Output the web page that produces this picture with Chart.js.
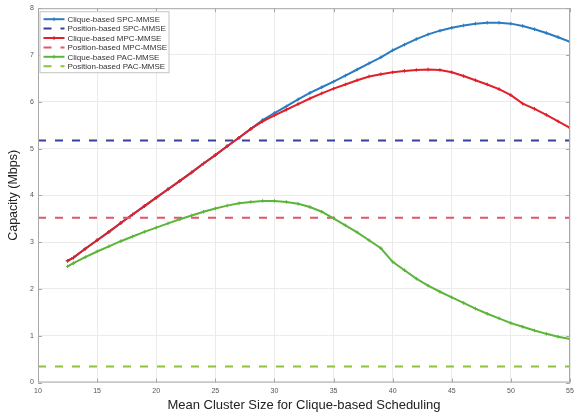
<!DOCTYPE html>
<html>
<head>
<meta charset="utf-8">
<script src="https://cdn.jsdelivr.net/npm/chart.js@4.4.1/dist/chart.umd.min.js"></script>
<style>
  html, body { margin: 0; padding: 0; background: #fff; }
  #wrap { width: 585px; height: 417px; position: relative; }
</style>
</head>
<body>
<div id="wrap"><canvas id="capacity-chart"></canvas></div>
<script>
// mean cluster size (x) and capacity in Mbps
const clusterSize = [12.5, 13, 14, 15, 16, 17, 18, 19, 20, 21, 22, 23, 24, 25, 26, 27, 28, 29, 30,
  31, 32, 33, 34, 35, 36, 37, 38, 39, 40, 41, 42, 43, 44, 45, 46, 47, 48, 49, 50, 51, 52, 53, 54, 55];

const spcClique = [2.60, 2.67, 2.86, 3.04, 3.22, 3.41, 3.59, 3.77, 3.95, 4.13, 4.31, 4.49, 4.68, 4.86,
  5.05, 5.23, 5.42, 5.61, 5.76, 5.90, 6.05, 6.19, 6.31, 6.43, 6.56, 6.69, 6.82, 6.95, 7.10, 7.22,
  7.34, 7.44, 7.52, 7.58, 7.63, 7.67, 7.69, 7.69, 7.67, 7.62, 7.55, 7.47, 7.38, 7.28];

const mpcClique = [2.60, 2.67, 2.86, 3.04, 3.22, 3.41, 3.59, 3.77, 3.95, 4.13, 4.31, 4.49, 4.68, 4.86,
  5.05, 5.23, 5.42, 5.58, 5.71, 5.83, 5.95, 6.07, 6.18, 6.28, 6.37, 6.46, 6.54, 6.59, 6.63, 6.66,
  6.68, 6.69, 6.68, 6.63, 6.55, 6.46, 6.37, 6.27, 6.14, 5.96, 5.85, 5.72, 5.58, 5.44];

const pacClique = [2.48, 2.55, 2.68, 2.80, 2.91, 3.02, 3.12, 3.22, 3.31, 3.40, 3.49, 3.57, 3.65, 3.72,
  3.78, 3.83, 3.86, 3.88, 3.88, 3.86, 3.82, 3.75, 3.65, 3.51, 3.36, 3.21, 3.04, 2.87, 2.58, 2.40,
  2.22, 2.07, 1.94, 1.82, 1.70, 1.58, 1.47, 1.37, 1.27, 1.19, 1.11, 1.04, 0.98, 0.93];

// position-based schemes are flat over the whole range
const positionRange = [10, 55];
const spcPosition = 5.17;
const mpcPosition = 3.52;
const pacPosition = 0.34;

const xTicks = [10, 15, 20, 25, 30, 35, 40, 45, 50, 55];
const yTicks = [0, 1, 2, 3, 4, 5, 6, 7, 8];

const FONT = '"Liberation Sans", Arial, sans-serif';

function curve(ys) {
  return clusterSize.map((x, i) => ({ x, y: ys[i] }));
}

function flat(v) {
  return positionRange.map(x => ({ x, y: v }));
}

// later series are drawn on top, like in the original plot
function solid(label, ys, color, order) {
  return {
    label, data: curve(ys), borderColor: color, backgroundColor: color, order,
    borderWidth: 2, pointStyle: 'cross', pointRadius: 1.8, pointBorderWidth: 1,
    pointBorderColor: color, tension: 0
  };
}

function dashed(label, v, color, order) {
  return {
    label, data: flat(v), borderColor: color, backgroundColor: color, order,
    borderWidth: 2, borderDash: [8, 9], pointRadius: 0
  };
}

// MATLAB style box with inward tick marks
const boxPlugin = {
  id: 'box',
  afterDatasetsDraw(chart) {
    const { ctx, chartArea: a, scales } = chart;
    ctx.save();
    ctx.strokeStyle = '#a8a8a8';
    ctx.lineWidth = 1;
    ctx.strokeRect(a.left + 0.5, a.top + 0.5, a.right - a.left - 1, a.bottom - a.top - 1);
    ctx.beginPath();
    scales.x.ticks.forEach(t => {
      const px = Math.round(scales.x.getPixelForValue(t.value)) + 0.5;
      ctx.moveTo(px, a.bottom); ctx.lineTo(px, a.bottom - 4);
      ctx.moveTo(px, a.top); ctx.lineTo(px, a.top + 4);
    });
    scales.y.ticks.forEach(t => {
      const py = Math.round(scales.y.getPixelForValue(t.value)) + 0.5;
      ctx.moveTo(a.left, py); ctx.lineTo(a.left + 4, py);
      ctx.moveTo(a.right, py); ctx.lineTo(a.right - 4, py);
    });
    ctx.stroke();
    ctx.restore();
  }
};

// legend box in the upper left corner of the axes
const legendPlugin = {
  id: 'insideLegend',
  afterDraw(chart) {
    const { ctx, chartArea: a } = chart;
    const x0 = a.left + 1.5, y0 = a.top + 3;
    ctx.save();
    ctx.fillStyle = '#fff';
    ctx.strokeStyle = '#c4c4c4';
    ctx.lineWidth = 1;
    ctx.fillRect(x0, y0, 129, 61);
    ctx.strokeRect(x0 + 0.5, y0 + 0.5, 129, 61);
    chart.data.datasets.forEach((ds, i) => {
      const y = y0 + 8 + i * 9.4;
      ctx.strokeStyle = ds.borderColor;
      ctx.lineWidth = 2;
      ctx.setLineDash(ds.borderDash || []);
      ctx.beginPath();
      ctx.moveTo(x0 + 4, y);
      ctx.lineTo(x0 + 25, y);
      ctx.stroke();
      ctx.setLineDash([]);
      if (ds.pointRadius) {
        ctx.lineWidth = 1;
        ctx.beginPath();
        ctx.moveTo(x0 + 14.5, y - 2); ctx.lineTo(x0 + 14.5, y + 2);
        ctx.stroke();
      }
      ctx.fillStyle = '#333';
      ctx.font = '8px ' + FONT;
      ctx.textBaseline = 'middle';
      ctx.fillText(ds.label, x0 + 28, y + 0.5);
    });
    ctx.restore();
  }
};

new Chart(document.getElementById('capacity-chart'), {
  type: 'line',
  data: {
    datasets: [
      solid('Clique-based SPC-MMSE', spcClique, '#2b7bc1', 6),
      dashed('Position-based SPC-MMSE', spcPosition, '#3b3f9c', 5),
      solid('Clique-based MPC-MMSE', mpcClique, '#e0202a', 4),
      dashed('Position-based MPC-MMSE', mpcPosition, '#e2566a', 3),
      solid('Clique-based PAC-MMSE', pacClique, '#5cb53a', 2),
      dashed('Position-based PAC-MMSE', pacPosition, '#8dc33f', 1)
    ]
  },
  options: {
    responsive: true,
    maintainAspectRatio: false,
    animation: false,
    layout: { padding: { top: 4.5, right: 15, left: 0, bottom: 0 } },
    plugins: { legend: { display: false }, tooltip: { enabled: false } },
    scales: {
      x: {
        type: 'linear', min: 10, max: 55,
        afterFit: s => { s.height = 34.5; },
        afterBuildTicks: s => { s.ticks = xTicks.map(v => ({ value: v })); },
        ticks: { font: { size: 7, family: FONT }, color: '#555', padding: 4, maxRotation: 0 },
        grid: { color: '#ebebeb', drawTicks: false },
        border: { display: false },
        title: {
          display: true, text: 'Mean Cluster Size for Clique-based Scheduling',
          font: { size: 13, family: FONT }, color: '#222', padding: { top: 0, bottom: 4 }
        }
      },
      y: {
        min: 0, max: 8,
        afterFit: s => { s.width = 38; },
        afterBuildTicks: s => { s.ticks = yTicks.map(v => ({ value: v })); },
        ticks: { font: { size: 7, family: FONT }, color: '#555', padding: 4 },
        grid: { color: '#ebebeb', drawTicks: false },
        border: { display: false },
        title: {
          display: true, text: 'Capacity (Mbps)',
          font: { size: 12.5, family: FONT }, color: '#222', padding: { top: 6, bottom: 0 }
        }
      }
    }
  },
  plugins: [boxPlugin, legendPlugin]
});
</script>
</body>
</html>
